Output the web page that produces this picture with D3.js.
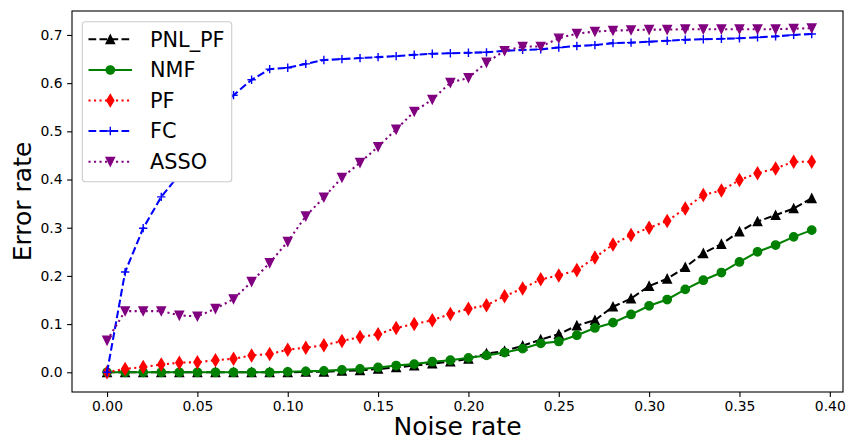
<!DOCTYPE html>
<html><head><meta charset="utf-8">
<script src="https://cdn.jsdelivr.net/npm/d3@7"></script>
<style>body{margin:0;background:#fff}svg{display:block}text{font-family:"DejaVu Sans",sans-serif}</style>
</head><body>
<svg id="chart" width="849" height="438"></svg>
<script>
const noiseRate = [0.00,0.01,0.02,0.03,0.04,0.05,0.06,0.07,0.08,0.09,0.10,0.11,0.12,0.13,0.14,0.15,0.16,0.17,0.18,0.19,0.20,0.21,0.22,0.23,0.24,0.25,0.26,0.27,0.28,0.29,0.30,0.31,0.32,0.33,0.34,0.35,0.36,0.37,0.38,0.39];
const pnlPF = [0.000,0.000,0.000,0.000,0.000,0.000,0.000,0.000,0.000,0.000,0.000,0.001,0.001,0.003,0.004,0.007,0.010,0.014,0.018,0.022,0.028,0.039,0.044,0.055,0.068,0.079,0.097,0.108,0.136,0.153,0.179,0.194,0.218,0.247,0.266,0.292,0.313,0.326,0.340,0.361];
const nmf = [0.000,0.000,0.000,0.000,0.000,0.000,0.000,0.000,0.000,0.000,0.001,0.002,0.003,0.005,0.007,0.010,0.014,0.017,0.022,0.025,0.030,0.035,0.041,0.049,0.060,0.064,0.077,0.092,0.103,0.120,0.138,0.151,0.172,0.191,0.207,0.229,0.250,0.264,0.281,0.295];
const pf = [0.000,0.007,0.011,0.016,0.020,0.021,0.025,0.028,0.035,0.038,0.047,0.051,0.056,0.065,0.073,0.079,0.092,0.100,0.108,0.121,0.132,0.139,0.158,0.174,0.193,0.201,0.212,0.238,0.265,0.285,0.300,0.314,0.340,0.368,0.377,0.399,0.413,0.423,0.437,0.437];
const fc = [0.000,0.208,0.299,0.364,0.410,0.465,0.525,0.575,0.607,0.629,0.632,0.640,0.648,0.650,0.652,0.654,0.656,0.659,0.661,0.662,0.663,0.664,0.667,0.669,0.670,0.674,0.677,0.679,0.683,0.684,0.686,0.688,0.690,0.691,0.692,0.693,0.695,0.697,0.700,0.702];
const asso = [0.066,0.127,0.127,0.127,0.118,0.116,0.132,0.152,0.188,0.227,0.271,0.324,0.363,0.404,0.435,0.468,0.504,0.541,0.566,0.601,0.611,0.643,0.667,0.676,0.676,0.693,0.703,0.707,0.709,0.710,0.711,0.711,0.712,0.712,0.712,0.712,0.712,0.712,0.713,0.714];
const seriesNames = ["PNL_PF","NMF","PF","FC","ASSO"];
const xTicks = [0.00,0.05,0.10,0.15,0.20,0.25,0.30,0.35,0.40];
const yTicks = [0.0,0.1,0.2,0.3,0.4,0.5,0.6,0.7];

const styles = {
  "PNL_PF": {color:"#000000", dash:"7.7,3.3", marker:"tri-up"},
  "NMF":    {color:"#008000", dash:null, marker:"circle"},
  "PF":     {color:"#ff0000", dash:"2.1,3.4", marker:"thin-diamond"},
  "FC":     {color:"#0000ff", dash:"7.7,3.3", marker:"plus"},
  "ASSO":   {color:"#800080", dash:"2.1,3.4", marker:"tri-down"}
};
const valuesByName = {"PNL_PF":pnlPF,"NMF":nmf,"PF":pf,"FC":fc,"ASSO":asso};

const L=72, R=843, T=11, B=392;
const x = d3.scaleLinear().domain([-0.0194, 0.4073]).range([L,R]);
const y = d3.scaleLinear().domain([-0.0409, 0.7497]).range([B,T]);

const svg = d3.select("#chart");
svg.append("defs").append("clipPath").attr("id","clip")
  .append("rect").attr("x",L).attr("y",T).attr("width",R-L).attr("height",B-T);

// axes
const xAxis = d3.axisBottom(x).tickValues(xTicks).tickFormat(d3.format(".2f")).tickSize(4.9).tickPadding(4.5);
const yAxis = d3.axisLeft(y).tickValues(yTicks).tickFormat(d3.format(".1f")).tickSize(4.9).tickPadding(4.5);
const gx = svg.append("g").attr("transform",`translate(0,${B})`).call(xAxis);
const gy = svg.append("g").attr("transform",`translate(${L},0)`).call(yAxis);
[gx,gy].forEach(g=>{
  g.select(".domain").remove();
  g.selectAll("line").attr("stroke","#000").attr("stroke-width",1.1);
  g.selectAll("text").attr("font-size","13.9px").attr("fill","#000").style("font-family","DejaVu Sans");
});

const plot = svg.append("g").attr("clip-path","url(#clip)");

function markerPath(type){
  const s=4.17;
  switch(type){
    case "tri-up": return `M0,${-s}L${-s},${s}L${s},${s}Z`;
    case "tri-down": return `M0,${s}L${-s},${-s}L${s},${-s}Z`;
    case "thin-diamond": {const h=5.9,w=3.54; return `M0,${-h}L${w},0L0,${h}L${-w},0Z`;}
    case "plus": return `M${-s},0L${s},0M0,${-s}L0,${s}`;
    case "circle": return d3.symbol(d3.symbolCircle, Math.PI*s*s)();
  }
}
function drawMarker(g, type, color, cx, cy){
  const p = g.append("path").attr("d",markerPath(type)).attr("transform",`translate(${cx},${cy})`);
  if(type==="plus") p.attr("fill","none").attr("stroke",color).attr("stroke-width",1.4);
  else p.attr("fill",color).attr("stroke",color).attr("stroke-width",1.4).attr("stroke-linejoin","miter");
}

const line = d3.line().x((d,i)=>x(noiseRate[i])).y(d=>y(d));
seriesNames.forEach(name=>{
  const st = styles[name], vals = valuesByName[name];
  const g = plot.append("g");
  const p = g.append("path").datum(vals).attr("d",line).attr("fill","none")
    .attr("stroke",st.color).attr("stroke-width",2.08);
  if(st.dash) p.attr("stroke-dasharray",st.dash);
  if(st.dash==="2.1,3.4") p.attr("stroke-linecap","butt");
  vals.forEach((v,i)=>drawMarker(g, st.marker, st.color, x(noiseRate[i]), y(v)));
});

// frame
svg.append("rect").attr("x",L).attr("y",T).attr("width",R-L).attr("height",B-T)
  .attr("fill","none").attr("stroke","#000").attr("stroke-width",1.1);

// legend
const lg = svg.append("g");
lg.append("rect").attr("x",82.3).attr("y",21.7).attr("width",149.4).attr("height",160)
  .attr("rx",3).attr("fill","#fff").attr("stroke","#cccccc").attr("stroke-width",1.1);
const legY = [39.3,70,100.5,131,161.7];
seriesNames.forEach((name,i)=>{
  const st = styles[name], yy = legY[i];
  const ln = lg.append("line").attr("x1",88.5).attr("x2",132).attr("y1",yy).attr("y2",yy)
    .attr("stroke",st.color).attr("stroke-width",2.08);
  if(st.dash) ln.attr("stroke-dasharray",st.dash);
  drawMarker(lg, st.marker, st.color, 110.3, yy);
  lg.append("text").attr("x",150).attr("y",yy+7.3).attr("font-size","20.8px").attr("fill","#000").text(name);
});

// axis labels
svg.append("text").attr("x",(L+R)/2).attr("y",435).attr("text-anchor","middle")
  .attr("font-size","25px").attr("fill","#000").text("Noise rate");
svg.append("text").attr("transform",`translate(31,${(T+B)/2}) rotate(-90)`).attr("text-anchor","middle")
  .attr("font-size","25px").attr("fill","#000").text("Error rate");
</script>
</body></html>
